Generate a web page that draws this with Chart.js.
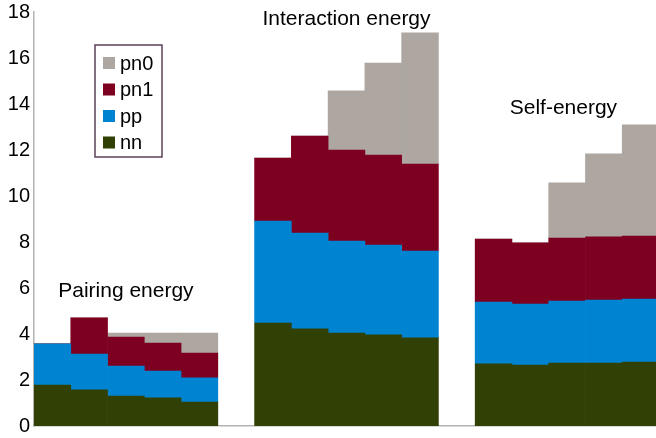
<!DOCTYPE html>
<html>
<head>
<meta charset="utf-8">
<script src="https://cdn.jsdelivr.net/npm/chart.js@4/dist/chart.umd.min.js"></script>
<style>
  html, body { margin: 0; padding: 0; background: #fff; overflow: hidden; }
  #wrap { width: 660px; height: 438px; }
</style>
</head>
<body>
<div id="wrap"><canvas id="c" width="660" height="438"></canvas></div>
<script>
// Three groups of five stacked bars; empty slots keep the groups apart.
const categories = [
  'P1', 'P2', 'P3', 'P4', 'P5', '',
  'I1', 'I2', 'I3', 'I4', 'I5', ' ',
  'S1', 'S2', 'S3', 'S4', 'S5'
];

const nn  = [1.78, 1.57, 1.30, 1.22, 1.04, null, 4.48, 4.22, 4.04, 3.96, 3.83, null, 2.70, 2.65, 2.74, 2.74, 2.78];
const pp  = [1.79, 1.56, 1.31, 1.17, 1.05, null, 4.43, 4.17, 4.00, 3.91, 3.78, null, 2.69, 2.65, 2.69, 2.74, 2.74];
const pn1 = [0,    1.57, 1.26, 1.22, 1.08, null, 2.74, 4.22, 3.96, 3.91, 3.78, null, 2.74, 2.66, 2.74, 2.74, 2.74];
const pn0 = [0,    0,    0.17, 0.43, 0.87, null, 0,    0,    2.57, 4.00, 5.70, null, 0,    0,    2.40, 3.61, 4.83];

const yTicks = [0, 2, 4, 6, 8, 10, 12, 14, 16, 18];

// Group captions: text, category position it centres on, y value of its middle
const captions = [
  { text: 'Pairing energy',     at: 2.0,  y: 5.88 },
  { text: 'Interaction energy', at: 8.0,  y: 17.7 },
  { text: 'Self-energy',        at: 13.9, y: 13.8 }
];

const FONT = '"Liberation Sans", Arial, sans-serif';

const captionPlugin = {
  id: 'captions',
  afterDatasetsDraw(chart) {
    const { ctx, scales: { x, y } } = chart;
    ctx.save();
    ctx.font = '21px ' + FONT;
    ctx.fillStyle = '#000';
    ctx.textAlign = 'center';
    ctx.textBaseline = 'middle';
    captions.forEach(c => ctx.fillText(c.text, x.getPixelForValue(c.at), y.getPixelForValue(c.y)));
    ctx.restore();
  }
};

// Boxed legend inside the plot, listed top of stack first
const boxLegend = {
  id: 'boxLegend',
  afterDraw(chart) {
    const { ctx } = chart;
    const items = chart.data.datasets.slice().reverse();
    const left = 95, top = 45, w = 67, h = 112;
    ctx.save();
    ctx.fillStyle = '#fff';
    ctx.fillRect(left, top, w, h);
    ctx.strokeStyle = '#5b4257';
    ctx.lineWidth = 1.5;
    ctx.strokeRect(left, top, w, h);
    ctx.font = '20px ' + FONT;
    ctx.textBaseline = 'middle';
    ctx.textAlign = 'left';
    items.forEach((d, i) => {
      const cy = top + 18 + i * 26.5;
      ctx.fillStyle = d.backgroundColor;
      ctx.fillRect(left + 8, cy - 6, 12, 12);
      ctx.fillStyle = '#000';
      ctx.fillText(d.label, left + 25, cy + 1);
    });
    ctx.restore();
  }
};

new Chart(document.getElementById('c'), {
  type: 'bar',
  data: {
    labels: categories,
    datasets: [
      { label: 'nn',  data: nn,  backgroundColor: '#314004' },
      { label: 'pp',  data: pp,  backgroundColor: '#0084d1' },
      { label: 'pn1', data: pn1, backgroundColor: '#7e0021' },
      { label: 'pn0', data: pn0, backgroundColor: '#aea7a1' }
    ]
  },
  options: {
    responsive: false,
    animation: false,
    devicePixelRatio: 1,
    layout: { padding: { top: 12, right: 1, bottom: 12, left: 0 } },
    datasets: { bar: { barPercentage: 1, categoryPercentage: 1, borderWidth: 0 } },
    plugins: { legend: { display: false }, tooltip: { enabled: false } },
    scales: {
      x: {
        stacked: true,
        afterFit(s) { s.height = 0; s.paddingLeft = 0; s.paddingRight = 0; },
        grid: { display: false, drawTicks: false },
        border: { display: true, color: '#b3b3b3', width: 1.5 },
        ticks: { display: false }
      },
      y: {
        stacked: true,
        min: 0,
        max: 18,
        afterBuildTicks(s) { s.ticks = yTicks.map(v => ({ value: v })); },
        afterFit(s) { s.width = 34; s.paddingTop = 0; s.paddingBottom = 0; },
        grid: { display: false, drawTicks: false },
        border: { display: true, color: '#b3b3b3', width: 1.5 },
        ticks: { color: '#000', padding: 4, font: { family: FONT, size: 20 } }
      }
    }
  },
  plugins: [captionPlugin, boxLegend]
});
</script>
</body>
</html>
